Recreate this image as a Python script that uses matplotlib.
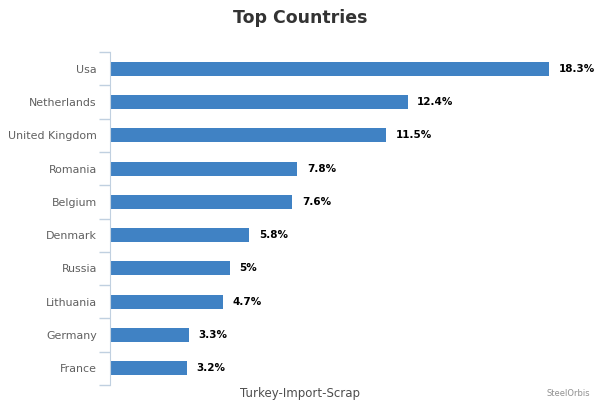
import matplotlib.pyplot as plt
import numpy as np

countries = ['Usa', 'Netherlands', 'United Kingdom', 'Romania', 'Belgium',
             'Denmark', 'Russia', 'Lithuania', 'Germany', 'France']
shares = [18.3, 12.4, 11.5, 7.8, 7.6, 5.8, 5, 4.7, 3.3, 3.2]
share_labels = ['18.3%', '12.4%', '11.5%', '7.8%', '7.6%',
                '5.8%', '5%', '4.7%', '3.3%', '3.2%']

fig = plt.figure(figsize=(6, 4), dpi=100)
ax = fig.add_axes([110 / 600, 1 - 385 / 400, 480 / 600, 333 / 400])

y = np.arange(len(countries))
ax.barh(y, shares, height=0.42, color='#4082c4')
for yi, v, lab in zip(y, shares, share_labels):
    ax.text(v + 0.4, yi, lab, va='center', ha='left',
            fontsize=7.5, fontweight='bold', color='black')

ax.set_xlim(0, 20)
ax.set_ylim(len(countries) - 0.5, -0.5)
ax.set_yticks(y)
ax.set_yticklabels(countries, fontsize=7.9, color='#606060')
ax.tick_params(axis='y', length=0, pad=9.5)
ax.set_yticks(np.arange(-0.5, len(countries)), minor=True)
ax.tick_params(axis='y', which='minor', length=8, color='#c0d0e0', width=1)
ax.set_xticks([])

for side in ['top', 'right', 'bottom']:
    ax.spines[side].set_visible(False)
ax.spines['left'].set_color('#c0d0e0')

fig.text(0.5, 1 - 18 / 400, 'Top Countries', ha='center', va='center',
         fontsize=12.5, fontweight='bold', color='#333333')
fig.text(300 / 600, 1 - 393 / 400, 'Turkey-Import-Scrap', ha='center',
         va='center', fontsize=8.5, color='#4d4d4d')
fig.text(590 / 600, 1 - 393 / 400, 'SteelOrbis', ha='right', va='center',
         fontsize=6, color='#909090')

fig.savefig('out.png', dpi=100)
